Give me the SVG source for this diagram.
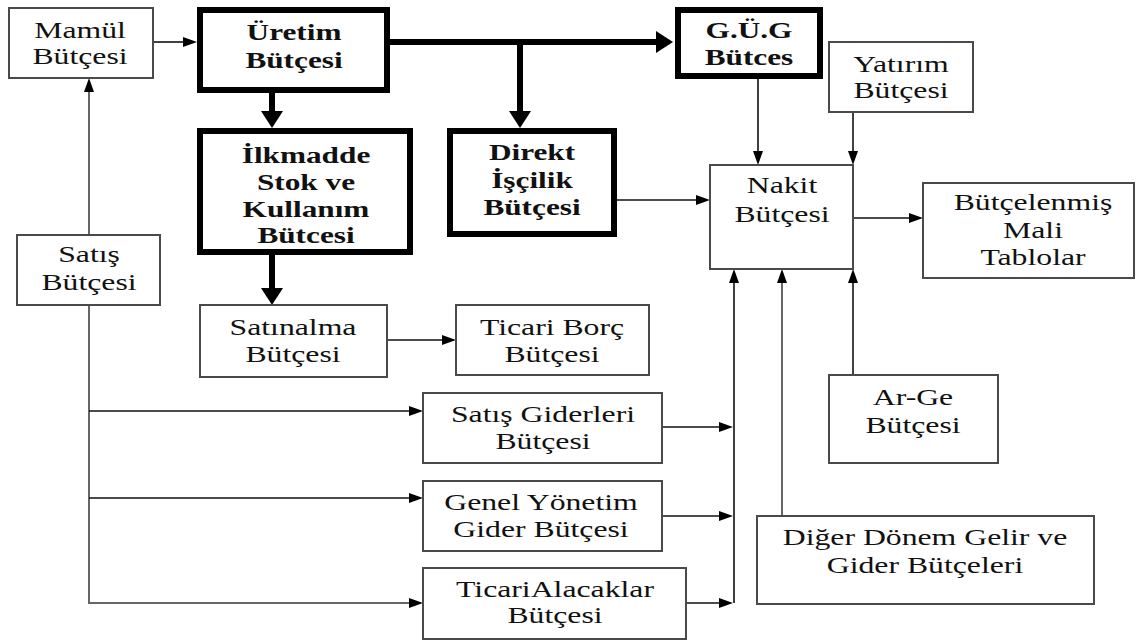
<svg xmlns="http://www.w3.org/2000/svg" width="1136" height="643" viewBox="0 0 1136 643">
  <style>
    .box { fill: #fff; stroke: #4a4a4a; stroke-width: 2; }
    .bold-box { fill: #fff; stroke: #000; stroke-width: 6; }
    .t { font-family: 'Liberation Serif', 'DejaVu Serif', serif; font-size: 23px; fill: #111; text-anchor: middle; }
    .tb { font-weight: bold; }
    .ln { fill: none; stroke: #111; stroke-width: 1.6; }
    .ln-grey { fill: none; stroke: #666; stroke-width: 2; }
    .ln-thick { fill: none; stroke: #000; stroke-width: 6; }
  </style>
  <defs>
    <marker id="arr" viewBox="0 -5 14 10" refX="0" refY="0" markerWidth="14" markerHeight="10" markerUnits="userSpaceOnUse" orient="auto">
      <path d="M0,-5 L14,0 L0,5 Z" fill="#000"/>
    </marker>
    <marker id="arr-big" viewBox="0 -11 17 22" refX="0" refY="0" markerWidth="17" markerHeight="22" markerUnits="userSpaceOnUse" orient="auto">
      <path d="M0,-11 L17,0 L0,11 Z" fill="#000"/>
    </marker>
  </defs>
  <rect width="1136" height="643" fill="#fff"/>

  <g id="connectors">
    <!-- thick production flows -->
    <path class="ln-thick" d="M390,42 H656" marker-end="url(#arr-big)"/>
    <path class="ln-thick" d="M520,42 V111" marker-end="url(#arr-big)"/>
    <path class="ln-thick" d="M272,93 V111" marker-end="url(#arr-big)"/>
    <path class="ln-thick" d="M272,255 V288" marker-end="url(#arr-big)"/>
    <!-- thin flows -->
    <path class="ln" d="M153,42 H183" marker-end="url(#arr)"/>
    <path class="ln-grey" d="M89,235 V92" marker-end="url(#arr)"/>
    <path class="ln-grey" d="M89,305 V603 H409" marker-end="url(#arr)"/>
    <path class="ln" d="M89,411 H409" marker-end="url(#arr)"/>
    <path class="ln" d="M89,498 H409" marker-end="url(#arr)"/>
    <path class="ln" d="M387,340 H442" marker-end="url(#arr)"/>
    <path class="ln" d="M662,427 H719" marker-end="url(#arr)"/>
    <path class="ln" d="M662,516 H719" marker-end="url(#arr)"/>
    <path class="ln" d="M686,603 H719" marker-end="url(#arr)"/>
    <path class="ln" d="M734,603 V283" marker-end="url(#arr)"/>
    <path class="ln-grey" d="M782,516 V283" marker-end="url(#arr)"/>
    <path class="ln" d="M853,375 V283" marker-end="url(#arr)"/>
    <path class="ln" d="M758,79 V151" marker-end="url(#arr)"/>
    <path class="ln" d="M853,112 V151" marker-end="url(#arr)"/>
    <path class="ln" d="M617,200 H696" marker-end="url(#arr)"/>
    <path class="ln" d="M853,218 H909" marker-end="url(#arr)"/>
  </g>

  <g id="mamul">
    <rect class="box" x="9" y="8" width="144" height="70"/>
    <text class="t" transform="translate(80 38) scale(1.38 1)">Mamül</text>
    <text class="t" transform="translate(80 64) scale(1.38 1)">Bütçesi</text>
  </g>

  <g id="uretim">
    <rect class="bold-box" x="200" y="10" width="187" height="80"/>
    <text class="t tb" transform="translate(294 40) scale(1.36 1)">Üretim</text>
    <text class="t tb" transform="translate(294 68) scale(1.36 1)">Bütçesi</text>
  </g>

  <g id="ilkmadde">
    <rect class="bold-box" x="200" y="131" width="210" height="121"/>
    <text class="t tb" transform="translate(306 163) scale(1.36 1)">İlkmadde</text>
    <text class="t tb" transform="translate(306 190) scale(1.36 1)">Stok ve</text>
    <text class="t tb" transform="translate(306 217) scale(1.36 1)">Kullanım</text>
    <text class="t tb" transform="translate(306 243) scale(1.36 1)">Bütcesi</text>
  </g>

  <g id="gug">
    <rect class="bold-box" x="678" y="10" width="142" height="66"/>
    <text class="t tb" transform="translate(749 38) scale(1.36 1)">G.Ü.G</text>
    <text class="t tb" transform="translate(749 65) scale(1.36 1)">Bütces</text>
  </g>

  <g id="direkt">
    <rect class="bold-box" x="450" y="131" width="164" height="103"/>
    <text class="t tb" transform="translate(532 160) scale(1.36 1)">Direkt</text>
    <text class="t tb" transform="translate(532 188) scale(1.36 1)">İşçilik</text>
    <text class="t tb" transform="translate(532 215) scale(1.36 1)">Bütçesi</text>
  </g>

  <g id="satis">
    <rect class="box" x="17" y="235" width="143" height="70"/>
    <text class="t" transform="translate(89 262) scale(1.38 1)">Satış</text>
    <text class="t" transform="translate(89 290) scale(1.38 1)">Bütçesi</text>
  </g>

  <g id="satinalma">
    <rect class="box" x="200" y="305" width="187" height="72"/>
    <text class="t" transform="translate(293 335) scale(1.38 1)">Satınalma</text>
    <text class="t" transform="translate(293 362) scale(1.38 1)">Bütçesi</text>
  </g>

  <g id="ticari-borc">
    <rect class="box" x="456" y="305" width="193" height="70"/>
    <text class="t" transform="translate(552 335) scale(1.38 1)">Ticari Borç</text>
    <text class="t" transform="translate(552 362) scale(1.38 1)">Bütçesi</text>
  </g>

  <g id="satis-giderleri">
    <rect class="box" x="423" y="393" width="239" height="70"/>
    <text class="t" transform="translate(543 422) scale(1.38 1)">Satış Giderleri</text>
    <text class="t" transform="translate(543 449) scale(1.38 1)">Bütçesi</text>
  </g>

  <g id="genel-yonetim">
    <rect class="box" x="423" y="481" width="239" height="70"/>
    <text class="t" transform="translate(541 510) scale(1.38 1)">Genel Yönetim</text>
    <text class="t" transform="translate(541 537) scale(1.38 1)">Gider Bütçesi</text>
  </g>

  <g id="ticari-alacaklar">
    <rect class="box" x="423" y="568" width="263" height="71"/>
    <text class="t" transform="translate(555 597) scale(1.38 1)">TicariAlacaklar</text>
    <text class="t" transform="translate(555 623) scale(1.38 1)">Bütçesi</text>
  </g>

  <g id="nakit">
    <rect class="box" x="710" y="165" width="143" height="104"/>
    <text class="t" transform="translate(782 193) scale(1.38 1)">Nakit</text>
    <text class="t" transform="translate(782 222) scale(1.38 1)">Bütçesi</text>
  </g>

  <g id="yatirim">
    <rect class="box" x="829" y="42" width="144" height="70"/>
    <text class="t" transform="translate(901 72) scale(1.38 1)">Yatırım</text>
    <text class="t" transform="translate(901 98) scale(1.38 1)">Bütçesi</text>
  </g>

  <g id="butcelenmis">
    <rect class="box" x="923" y="183" width="211" height="95"/>
    <text class="t" transform="translate(1033 210) scale(1.38 1)">Bütçelenmiş</text>
    <text class="t" transform="translate(1033 238) scale(1.38 1)">Mali</text>
    <text class="t" transform="translate(1033 265) scale(1.38 1)">Tablolar</text>
  </g>

  <g id="arge">
    <rect class="box" x="829" y="375" width="169" height="88"/>
    <text class="t" transform="translate(913 405) scale(1.38 1)">Ar-Ge</text>
    <text class="t" transform="translate(913 433) scale(1.38 1)">Bütçesi</text>
  </g>

  <g id="diger-donem">
    <rect class="box" x="757" y="516" width="337" height="88"/>
    <text class="t" transform="translate(925 545) scale(1.38 1)">Diğer Dönem Gelir ve</text>
    <text class="t" transform="translate(925 573) scale(1.38 1)">Gider Bütçeleri</text>
  </g>
</svg>
